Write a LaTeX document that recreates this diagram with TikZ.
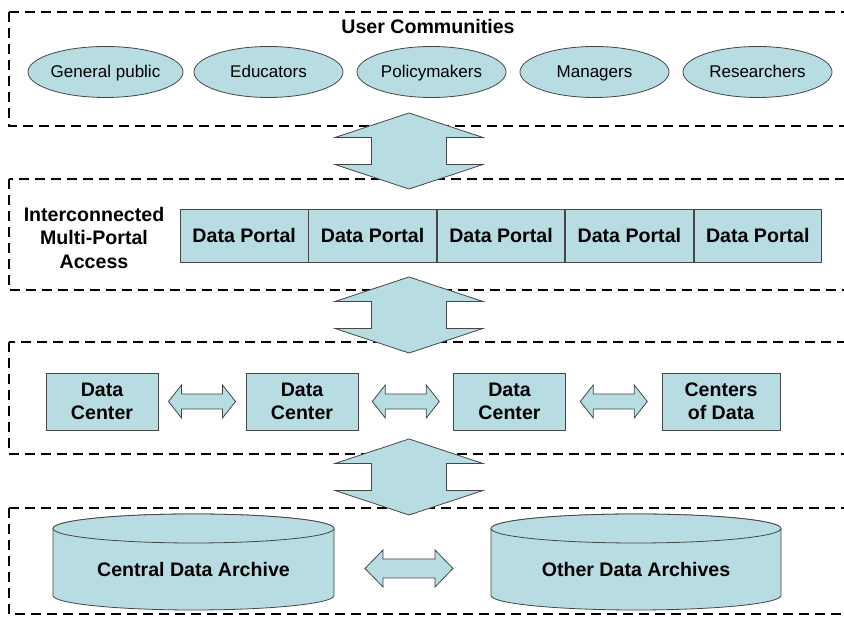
\documentclass[tikz,border=0pt]{standalone}
\usepackage{fontspec}
\setmainfont{Liberation Sans}
\usetikzlibrary{calc,shapes.geometric}
\definecolor{boxfill}{RGB}{183,221,227}
\definecolor{edgec}{RGB}{70,70,70}
\newcommand\bfnt{\fontsize{19.6}{23.5}\selectfont\bfseries}
\newcommand\rfnt{\fontsize{17}{20}\selectfont}
\begin{document}
\begin{tikzpicture}[x=1pt,y=1pt,
  layer/.style={draw=black, line width=2.2pt, dash pattern=on 10pt off 6pt},
  comm/.style={ellipse, draw=edgec, line width=0.8pt, fill=boxfill, minimum width=149pt, minimum height=51pt, inner sep=0pt, text height=14pt, text depth=3pt, font=\rfnt},
  portal/.style={rectangle, draw=edgec, line width=0.8pt, fill=boxfill, minimum width=127.6pt, minimum height=53pt, inner sep=0pt, font=\bfnt, anchor=west},
  dcbox/.style={rectangle, draw=edgec, line width=0.8pt, fill=boxfill, minimum width=112pt, minimum height=57pt, inner sep=0pt, font=\bfnt, align=center},
  bigarrow/.style={fill=boxfill, draw=edgec, line width=0.8pt, line join=miter},
  cyl/.style={fill=boxfill, draw=edgec, line width=0.8pt},
  lbl/.style={font=\bfnt, align=center, inner sep=0pt}
]
\useasboundingbox (0,0) rectangle (844,617);
\fill[white] (0,0) rectangle (844,617);

% layers
\draw[layer] (9,605) rectangle (852,491);
\draw[layer] (9,438) rectangle (852,327);
\draw[layer] (9,275) rectangle (852,163);
\draw[layer] (9,109) rectangle (852,3);

% user communities
\node[lbl] (uc) at (428,590) {User Communities};
\node[comm] (e1) at (105.5,545) {General public};
\node[comm] (e2) at (268.5,545) {Educators};
\node[comm] (e3) at (431.5,545) {Policymakers};
\node[comm] (e4) at (594.5,545) {Managers};
\node[comm] (e5) at (757.5,545) {Researchers};

% portals
\node[lbl] (ima) at (94,379) {Interconnected\\Multi-Portal\\Access};
\node[portal] (p1) at (180,381.5) {Data Portal};
\node[portal] (p2) at (p1.east) {Data Portal};
\node[portal] (p3) at (p2.east) {Data Portal};
\node[portal] (p4) at (p3.east) {Data Portal};
\node[portal] (p5) at (p4.east) {Data Portal};

% data centers
\node[dcbox] (d1) at (102,215.5) {Data\\Center};
\node[dcbox] (d2) at (302,215.5) {Data\\Center};
\node[dcbox] (d3) at (509.5,215.5) {Data\\Center};
\node[dcbox, minimum width=118pt] (d4) at (721,215.5) {Centers\\of Data};

% archives (cylinders)
\draw[cyl] (53,88.5) -- (53,21.5) arc[start angle=180,end angle=360,x radius=140.5,y radius=14.5] -- (334,88.5) arc[start angle=0,end angle=180,x radius=140.5,y radius=14.5] -- cycle;
\draw[cyl] (193.5,88.5) ellipse[x radius=140.5,y radius=14.5];
\draw[cyl] (491,88.5) -- (491,21.5) arc[start angle=180,end angle=360,x radius=145,y radius=14.5] -- (781,88.5) arc[start angle=0,end angle=180,x radius=145,y radius=14.5] -- cycle;
\draw[cyl] (636,88.5) ellipse[x radius=145,y radius=14.5];
\node[lbl] (ca) at (193.5,47) {Central Data Archive};
\node[lbl] (oa) at (636,47) {Other Data Archives};

% big vertical double arrows between layers
\coordinate (a1) at (409,466);
\coordinate (a2) at (409,302);
\coordinate (a3) at (409,140);
\foreach \c in {a1,a2,a3}{
  \draw[bigarrow, shift={(\c)}] (0,38) -- (74,13.5) -- (37.5,13.5) -- (37.5,-13.5) -- (74,-13.5) -- (0,-38) -- (-74,-13.5) -- (-37.5,-13.5) -- (-37.5,13.5) -- (-74,13.5) -- cycle;
}

% small horizontal double arrows between data centers
\coordinate (h1) at ($(d1.east)!0.5!(d2.west)$);
\coordinate (h2) at ($(d2.east)!0.5!(d3.west)$);
\coordinate (h3) at ($(d3.east)!0.5!(d4.west)$);
\foreach \c in {h1,h2,h3}{
  \draw[bigarrow, shift={(\c)}] (-33.5,0) -- (-20.5,16.5) -- (-20.5,7.5) -- (20.5,7.5) -- (20.5,16.5) -- (33.5,0) -- (20.5,-16.5) -- (20.5,-7.5) -- (-20.5,-7.5) -- (-20.5,-16.5) -- cycle;
}

% arrow between archives
\coordinate (h4) at (409,48.5);
\draw[bigarrow, shift={(h4)}] (-44,0) -- (-26,18.5) -- (-26,9.5) -- (26,9.5) -- (26,18.5) -- (44,0) -- (26,-18.5) -- (26,-9.5) -- (-26,-9.5) -- (-26,-18.5) -- cycle;
\end{tikzpicture}
\end{document}
